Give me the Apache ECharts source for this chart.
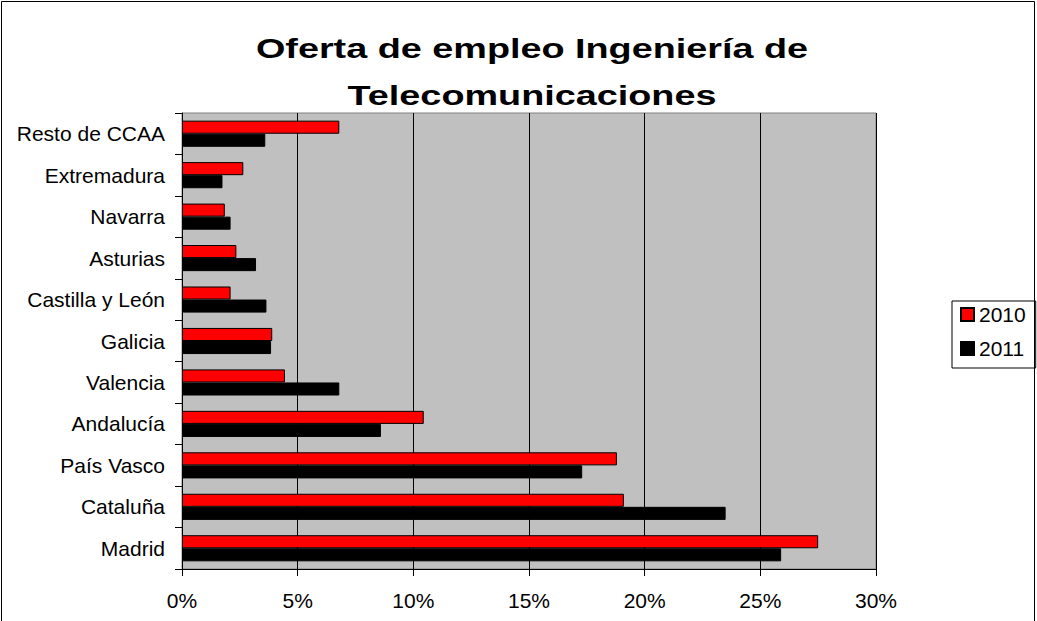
<!DOCTYPE html>
<html>
<head>
<meta charset="utf-8">
<title>Oferta de empleo Ingeniería de Telecomunicaciones</title>
<script src="https://cdn.jsdelivr.net/npm/echarts@6/dist/echarts.min.js"></script>
<style>
  html, body { margin: 0; padding: 0; background: #fff; }
  #chart { width: 1037px; height: 621px; }
</style>
</head>
<body>
<div id="chart"></div>
<script>
// categorias (de abajo a arriba)
const regiones = [
  'Madrid', 'Cataluña', 'País Vasco', 'Andalucía', 'Valencia', 'Galicia',
  'Castilla y León', 'Asturias', 'Navarra', 'Extremadura', 'Resto de CCAA'
];
// porcentaje de ofertas
const datos2010 = [27.5, 19.1, 18.8, 10.45, 4.45, 3.9, 2.1, 2.35, 1.85, 2.65, 6.8];
const datos2011 = [25.9, 23.5, 17.3, 8.6, 6.8, 3.85, 3.65, 3.2, 2.1, 1.75, 3.6];
const series_nombres = ['2010', '2011'];

const fuente = '"Liberation Sans", Arial, sans-serif';

const chart = echarts.init(document.getElementById('chart'), null, { renderer: 'svg' });

const option = {
  animation: false,
  textStyle: { fontFamily: fuente, color: '#000' },
  graphic: [
    {
      // marco exterior
      type: 'rect',
      silent: true,
      shape: { x: 1.5, y: 1.5, width: 1033, height: 700 },
      style: { fill: 'none', stroke: '#000', lineWidth: 1 }
    },
    {
      // titulo (texto ensanchado como en el original)
      type: 'text',
      x: 532,
      y: 72,
      scaleX: 1.4,
      z: 10,
      style: {
        text: 'Oferta de empleo Ingeniería de\nTelecomunicaciones',
        font: 'bold 27px ' + fuente,
        fill: '#000',
        align: 'center',
        verticalAlign: 'middle',
        lineHeight: 47
      }
    }
  ],
  legend: {
    data: series_nombres,
    orient: 'vertical',
    left: 952,
    top: 301,
    padding: [3, 10, 9, 8],
    itemGap: 13,
    itemWidth: 13,
    itemHeight: 13,
    icon: 'rect',
    borderColor: '#000',
    borderWidth: 1,
    textStyle: { fontFamily: fuente, fontSize: 21, color: '#000' }
  },
  grid: {
    left: 182,
    right: 161,
    top: 113,
    bottom: 52,
    show: true,
    backgroundColor: '#c0c0c0',
    borderColor: '#808080',
    borderWidth: 1
  },
  xAxis: {
    type: 'value',
    min: 0,
    max: 30,
    interval: 5,
    axisLine: { show: true, lineStyle: { color: '#000', width: 1 } },
    axisTick: { show: true, length: 7, lineStyle: { color: '#000' } },
    axisLabel: {
      formatter: '{value}%',
      fontSize: 21,
      color: '#000',
      margin: 21
    },
    splitLine: { show: true, lineStyle: { color: '#000', width: 1 } }
  },
  yAxis: {
    type: 'category',
    data: regiones,
    axisLine: { show: true, lineStyle: { color: '#000', width: 1 } },
    axisTick: { show: true, length: 7, lineStyle: { color: '#000' } },
    axisLabel: { fontSize: 21, color: '#000', margin: 17 },
    splitLine: { show: false }
  },
  series: [
    {
      name: '2010',
      type: 'bar',
      data: datos2010,
      barGap: '0%',
      barCategoryGap: '37%',
      itemStyle: { color: '#ff0000', borderColor: '#000', borderWidth: 1 }
    },
    {
      name: '2011',
      type: 'bar',
      data: datos2011,
      barGap: '0%',
      barCategoryGap: '37%',
      itemStyle: { color: '#000000', borderColor: '#000', borderWidth: 1 }
    }
  ]
};

chart.setOption(option);
window.addEventListener('resize', () => chart.resize());
</script>
</body>
</html>
